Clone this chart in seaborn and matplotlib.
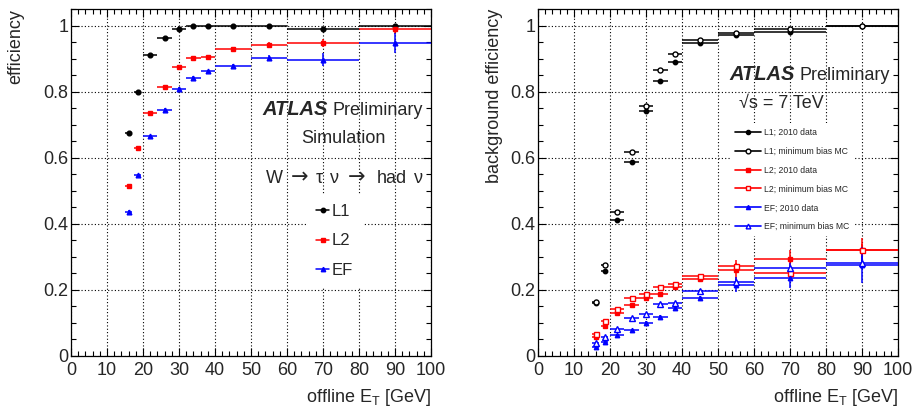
import numpy as np
import matplotlib
matplotlib.use("Agg")
import matplotlib.pyplot as plt
from matplotlib.lines import Line2D
from matplotlib.ticker import MultipleLocator, FormatStrFormatter
import seaborn as sns

sns.set_theme(style="ticks")
plt.rcParams["font.family"] = ["Liberation Sans", "DejaVu Sans"]
plt.rcParams["mathtext.fontset"] = "custom"
plt.rcParams["mathtext.rm"] = "Liberation Sans"

# bins in offline tau ET (GeV)
et_center = [16, 18.5, 22, 26, 30, 34, 38, 45, 55, 70, 90]
et_halfwidth = [1, 1, 2, 2, 2, 2, 2, 5, 5, 10, 10]

# W -> tau nu signal efficiency (simulation)
sig_l1 = [0.675, 0.800, 0.912, 0.963, 0.988, 0.998, 0.998, 1.000, 0.998, 0.989, 0.999]
sig_l1_err = [0.004, 0.004, 0.003, 0.002, 0.002, 0.001, 0.001, 0.001, 0.002, 0.004, 0.003]
sig_l2 = [0.514, 0.629, 0.736, 0.814, 0.874, 0.902, 0.906, 0.930, 0.941, 0.946, 0.988]
sig_l2_err = [0.005, 0.005, 0.005, 0.004, 0.004, 0.004, 0.004, 0.005, 0.008, 0.012, 0.015]
sig_ef = [0.436, 0.547, 0.665, 0.745, 0.809, 0.842, 0.861, 0.879, 0.902, 0.897, 0.948]
sig_ef_err = [0.005, 0.005, 0.005, 0.005, 0.005, 0.005, 0.005, 0.006, 0.010, 0.020, 0.030]

# background efficiency: 2010 data vs minimum bias MC
bkg_l1_data = [0.161, 0.258, 0.413, 0.587, 0.740, 0.831, 0.889, 0.948, 0.970, 0.980, 1.000]
bkg_l1_mc = [0.163, 0.275, 0.435, 0.617, 0.756, 0.864, 0.914, 0.956, 0.977, 0.989, 1.000]
bkg_l1_err = [0.003, 0.003, 0.004, 0.004, 0.004, 0.004, 0.004, 0.004, 0.005, 0.008, 0.004]
bkg_l2_data = [0.058, 0.091, 0.131, 0.153, 0.174, 0.189, 0.209, 0.233, 0.260, 0.295, 0.320]
bkg_l2_mc = [0.068, 0.107, 0.142, 0.177, 0.189, 0.209, 0.219, 0.243, 0.272, 0.250, 0.320]
bkg_l2_data_err = [0.003, 0.003, 0.004, 0.004, 0.005, 0.006, 0.007, 0.010, 0.030, 0.026, 0.038]
bkg_l2_mc_err = [0.003, 0.003, 0.003, 0.003, 0.004, 0.004, 0.005, 0.006, 0.010, 0.015, 0.020]
bkg_ef_data = [0.028, 0.043, 0.065, 0.079, 0.101, 0.119, 0.144, 0.174, 0.216, 0.235, 0.275]
bkg_ef_mc = [0.040, 0.058, 0.081, 0.116, 0.126, 0.157, 0.159, 0.196, 0.224, 0.267, 0.282]
bkg_ef_data_err = [0.003, 0.003, 0.003, 0.004, 0.004, 0.005, 0.006, 0.008, 0.023, 0.028, 0.055]
bkg_ef_mc_err = [0.003, 0.003, 0.003, 0.003, 0.004, 0.004, 0.005, 0.006, 0.010, 0.015, 0.020]

W, H = 919, 417
fig = plt.figure(figsize=(W / 100, H / 100), dpi=100)
ax_sig = fig.add_axes([71 / W, 1 - 356 / H, 360 / W, 347 / H])
ax_bkg = fig.add_axes([538 / W, 1 - 356 / H, 360 / W, 347 / H])


def style_axes(ax):
    ax.set_xlim(0, 100)
    ax.set_ylim(0, 1.05)
    ax.xaxis.set_major_locator(MultipleLocator(10))
    ax.xaxis.set_minor_locator(MultipleLocator(2))
    ax.yaxis.set_major_locator(MultipleLocator(0.2))
    ax.yaxis.set_minor_locator(MultipleLocator(0.05))
    ax.yaxis.set_major_formatter(FormatStrFormatter("%g"))
    ax.tick_params(which="both", direction="in", top=True, right=True,
                   color="black", width=0.8)
    ax.tick_params(which="major", length=6, labelsize=13)
    ax.tick_params(which="minor", length=3.5)
    ax.tick_params(axis="y", pad=2)
    ax.tick_params(axis="x", pad=4)
    ax.grid(True, which="major", color="black", linestyle=(0, (1, 2)), linewidth=0.8)
    for sp in ax.spines.values():
        sp.set_color("black")
        sp.set_linewidth(0.9)
    ax.set_xlabel(r"offline E$_\mathregular{T}$ [GeV]", fontsize=13, loc="right")
    ax.xaxis.set_label_coords(1.0, -0.088)


def draw(ax, y, yerr, color, marker, ms, open_marker=False):
    ax.errorbar(et_center, y, xerr=et_halfwidth, yerr=yerr, fmt=marker,
                color=color, ms=ms, mec=color,
                mfc="white" if open_marker else color,
                mew=1.0, elinewidth=1.1, capsize=0, zorder=3)


style_axes(ax_sig)
style_axes(ax_bkg)

# left: signal efficiency
draw(ax_sig, sig_l1, sig_l1_err, "black", "o", 3.4)
draw(ax_sig, sig_l2, sig_l2_err, "red", "s", 3.2)
draw(ax_sig, sig_ef, sig_ef_err, "blue", "^", 3.4)
ax_sig.set_ylabel("efficiency", fontsize=13, loc="top")
ax_sig.yaxis.set_label_coords(-0.13, 1.0)

leg_handles = [
    Line2D([], [], color="black", marker="o", ms=3.2, lw=1.1),
    Line2D([], [], color="red", marker="s", ms=3.0, lw=1.1),
    Line2D([], [], color="blue", marker="^", ms=3.2, lw=1.1),
]
leg = ax_sig.legend(leg_handles, ["L1", "L2", "EF"], loc="upper left",
                    bbox_to_anchor=(0.63, 0.49), frameon=True, fontsize=12,
                    handlelength=0.8, handletextpad=0.15, labelspacing=0.85,
                    borderpad=0.6, fancybox=False, framealpha=1)
leg.get_frame().set_edgecolor("white")
leg.get_frame().set_linewidth(0)

# right: background efficiency
draw(ax_bkg, bkg_l1_data, bkg_l1_err, "black", "o", 3.2)
draw(ax_bkg, bkg_l1_mc, bkg_l1_err, "black", "o", 3.6, open_marker=True)
draw(ax_bkg, bkg_l2_data, bkg_l2_data_err, "red", "s", 3.0)
draw(ax_bkg, bkg_l2_mc, bkg_l2_mc_err, "red", "s", 3.6, open_marker=True)
draw(ax_bkg, bkg_ef_data, bkg_ef_data_err, "blue", "^", 3.2)
draw(ax_bkg, bkg_ef_mc, bkg_ef_mc_err, "blue", "^", 3.8, open_marker=True)
ax_bkg.set_ylabel("background efficiency", fontsize=13, loc="top")
ax_bkg.yaxis.set_label_coords(-0.097, 1.0)

bkg_labels = ["L1; 2010 data", "L1; minimum bias MC", "L2; 2010 data",
              "L2; minimum bias MC", "EF; 2010 data", "EF; minimum bias MC"]
bkg_handles = []
for c, m in [("black", "o"), ("red", "s"), ("blue", "^")]:
    bkg_handles.append(Line2D([], [], color=c, marker=m, ms=3.0, lw=1.2))
    bkg_handles.append(Line2D([], [], color=c, marker=m, ms=3.4, lw=1.2, mfc="white"))
leg2 = ax_bkg.legend(bkg_handles, bkg_labels, loc="upper left",
                     bbox_to_anchor=(0.52, 0.685), frameon=True, fontsize=6.2,
                     handlelength=3.0, handletextpad=0.4, labelspacing=1.15,
                     borderpad=0.6, fancybox=False, framealpha=1)
leg2.get_frame().set_edgecolor("white")
leg2.get_frame().set_linewidth(0)


def fig_xy(px, py):
    return px / W, 1 - py / H


def text_right(right_px, base_py, pieces, size=13):
    # pieces: (text, font kwargs, gap in px before this piece), placed right-to-left
    x_px = right_px
    y = fig_xy(0, base_py)[1]
    renderer = fig.canvas.get_renderer()
    for s, kw, gap in reversed(pieces):
        kw = dict(kw)
        t = fig.text(x_px / W, y, s, fontsize=kw.pop("size", size), ha="right",
                     va="baseline", **kw)
        x_px = t.get_window_extent(renderer=renderer).x0 - gap


def atlas_label(right_px, base_py):
    text_right(right_px, base_py, [
        ("ATLAS", dict(fontweight="bold", fontstyle="italic", size=14.5), 0),
        ("Preliminary", dict(), 5),
    ])


atlas_label(423, 115)
fig.text(*fig_xy(343, 143), "Simulation", fontsize=13, ha="center", va="baseline")
arrow = dict(family="DejaVu Sans", size=15)
text_right(423, 183, [
    ("W", dict(), 0),
    ("\u2192", arrow, 8),
    ("\u03c4", dict(), 7),
    ("\u03bd", dict(), 8),
    ("\u2192", arrow, 8),
    ("had", dict(), 12),
    ("\u03bd", dict(), 7),
])

atlas_label(890, 80)
fig.text(*fig_xy(781, 108), "\u221as = 7 TeV", fontsize=13, ha="center", va="baseline",
         family=["Liberation Sans", "DejaVu Sans"])

fig.savefig("out.png", dpi=100)
